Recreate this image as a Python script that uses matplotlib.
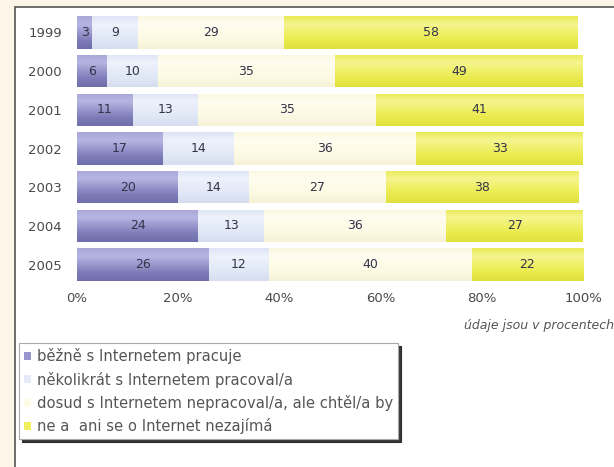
import matplotlib
matplotlib.use("Agg")
import matplotlib.pyplot as plt
import numpy as np
from matplotlib.patches import Rectangle
from matplotlib.colors import LinearSegmentedColormap

years = ["1999", "2000", "2001", "2002", "2003", "2004", "2005"]
bezne = [3, 6, 11, 17, 20, 24, 26]
nekolikrat = [9, 10, 13, 14, 14, 13, 12]
dosud = [29, 35, 35, 36, 27, 36, 40]
nezajima = [58, 49, 41, 33, 38, 27, 22]
series_labels = [
    "běžně s Internetem pracuje",
    "několikrát s Internetem pracoval/a",
    "dosud s Internetem nepracoval/a, ale chtěl/a by",
    "ne a  ani se o Internet nezajímá",
]
tick_labels = ["0%", "20%", "40%", "60%", "80%", "100%"]
note = "údaje jsou v procentech"

series = [bezne, nekolikrat, dosud, nezajima]
base_colors = ["#9896cc", "#e4eaf7", "#fefbe6", "#f0f060"]
gradients = [
    ["#a9a7d8", "#b7b5e2", "#9997cc", "#7e7cb8", "#6f6dab"],
    ["#dde4f4", "#eef2fb", "#e6ecf8", "#dfe6f5", "#d5ddef"],
    ["#fbf8e0", "#fffdf0", "#fefbe8", "#fcf9e2", "#f6f2d6"],
    ["#eaea58", "#f5f590", "#f0f06a", "#eaea4c", "#e0e040"],
]

fig = plt.figure(figsize=(6.14, 4.67), dpi=100)
fig.patch.set_facecolor("#fcf5e8")
panel = Rectangle((15 / 614, -0.01), 1.0, 1 - 7 / 467 + 0.01,
                  transform=fig.transFigure, facecolor="white",
                  edgecolor="#555555", linewidth=1.2, zorder=-5)
fig.patches.append(panel)

ax = fig.add_axes([77 / 614, 1 - 284 / 467, (583 - 77) / 614, (284 - 13) / 467])
ax.set_facecolor("none")
y = np.arange(len(years))
left = np.zeros(len(years))
handles = []
for vals, col, grad, lab in zip(series, base_colors, gradients, series_labels):
    bars = ax.barh(y, vals, left=left, height=0.84, color=col, edgecolor="none", label=lab)
    cmap = LinearSegmentedColormap.from_list("g", grad)
    for b in bars:
        x0, y0 = b.get_x(), b.get_y()
        w, h = b.get_width(), b.get_height()
        im = ax.imshow(np.linspace(0, 1, 64).reshape(-1, 1), cmap=cmap, aspect="auto",
                       extent=(x0, x0 + w, y0 + h, y0), origin="upper", zorder=2)
        im.set_clip_path(b)
    for yi, (l, v) in enumerate(zip(left, vals)):
        ax.text(l + v / 2, yi, str(v), ha="center", va="center", fontsize=9,
                color="#33334a", zorder=3)
    handles.append(bars)
    left = left + np.array(vals)

ax.set_xlim(0, 100)
ax.set_ylim(len(years) - 0.5, -0.5)
ax.set_yticks(y)
ax.set_yticklabels(years, fontsize=9.5, color="#4a4a4a")
ax.set_xticks(np.arange(0, 101, 20))
ax.set_xticklabels(tick_labels, fontsize=9.5, color="#4a4a4a")
ax.tick_params(length=0, pad=6)
ax.tick_params(axis="y", pad=11)
for s in ax.spines.values():
    s.set_visible(False)

fig.text(1.0, 1 - 325 / 467, note, ha="right", va="center", fontsize=9,
         style="italic", color="#555555")

leg = fig.legend(handles=handles, labels=series_labels, loc="upper left",
                 bbox_to_anchor=(19 / 614, 1 - 343 / 467), fontsize=10.6,
                 frameon=True, fancybox=False, shadow={"color": "#222222", "alpha": 0.9},
                 edgecolor="#aaaaaa", handlelength=0.45, handleheight=0.45,
                 handletextpad=0.4, labelspacing=0.5, borderpad=0.35,
                 borderaxespad=0)
leg.get_frame().set_linewidth(0.8)
for t in leg.get_texts():
    t.set_color("#555555")

fig.savefig("out.png", dpi=100, facecolor=fig.get_facecolor())
